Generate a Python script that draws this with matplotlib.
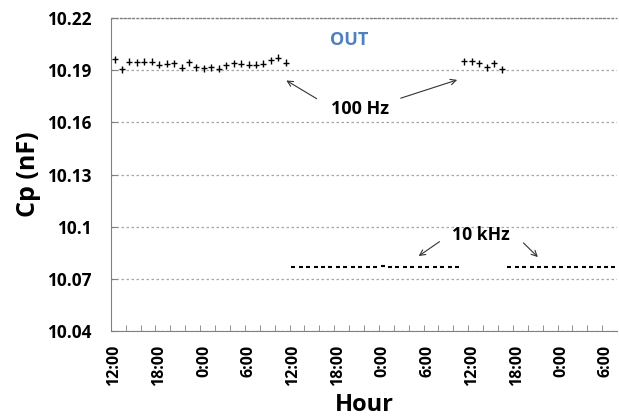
import matplotlib.pyplot as plt
from matplotlib.ticker import FixedLocator

# Datos (cada punto = 1 hora, empezando a las 12:00)
horas_100hz_a = list(range(0, 24))
cp_100hz_a = [10.1962, 10.1904, 10.1948, 10.1945, 10.1948, 10.1948, 10.1932, 10.1938,
              10.1940, 10.1915, 10.1945, 10.1918, 10.1910, 10.1918, 10.1908, 10.1928,
              10.1940, 10.1937, 10.1932, 10.1932, 10.1937, 10.1958, 10.1972, 10.1942]
horas_100hz_b = list(range(47, 53))
cp_100hz_b = [10.1952, 10.1952, 10.1939, 10.1916, 10.1939, 10.1904]
err_100hz = 0.002

horas_10khz_a = list(range(24, 47))
cp_10khz_a = [10.0771, 10.0771, 10.0771, 10.0771, 10.0771, 10.0771, 10.0771, 10.0771,
              10.0771, 10.0771, 10.0771, 10.0771, 10.07715, 10.0771, 10.0771, 10.0771,
              10.0771, 10.0771, 10.0771, 10.0771, 10.0771, 10.0771, 10.0771]
horas_10khz_b = list(range(53, 68))
cp_10khz_b = [10.0771, 10.0771, 10.0771, 10.0771, 10.0771, 10.0771, 10.0771, 10.0771,
              10.0771, 10.0771, 10.0771, 10.0771, 10.0771, 10.0771, 10.0771]

etiquetas_x = ['12:00', '18:00', '0:00', '6:00'] * 3
pos_etiquetas = list(range(0, 68, 6))
ticks_y = [10.04, 10.07, 10.1, 10.13, 10.16, 10.19, 10.22]

plt.rcParams['font.family'] = ['Open Sans', 'DejaVu Sans']
plt.rcParams['font.weight'] = 'bold'

fig = plt.figure(figsize=(6.19, 4.17), dpi=100)
ax = fig.add_axes([0.179, 0.2062, 0.818, 0.7506])

# 100 Hz con barras de error
for hx, cy in [(horas_100hz_a, cp_100hz_a), (horas_100hz_b, cp_100hz_b)]:
    ax.errorbar(hx, cy, yerr=err_100hz, fmt='_', color='black', ecolor='black',
                elinewidth=1, markersize=4, mew=1, capsize=0, zorder=3)

# 10 kHz
for hx, cy in [(horas_10khz_a, cp_10khz_a), (horas_10khz_b, cp_10khz_b)]:
    ax.plot(hx, cy, linestyle='none', marker='_', color='black',
            markersize=3, mew=1.5, zorder=3)

ax.set_xlim(-0.5, 67.5)
ax.set_ylim(10.04, 10.22)
ax.set_yticks(ticks_y)
ax.set_yticklabels(['10.04', '10.07', '10.1', '10.13', '10.16', '10.19', '10.22'],
                   fontsize=12.4, fontweight='bold')
ax.xaxis.set_major_locator(FixedLocator(pos_etiquetas))
ax.set_xticklabels(etiquetas_x, rotation=90, fontsize=11.5, fontweight='bold')
ax.xaxis.set_minor_locator(FixedLocator([-0.5 + 2 * k for k in range(1, 34)]))
ax.tick_params(axis='x', which='major', length=0, pad=10)
ax.tick_params(axis='x', which='minor', direction='in', length=4, color='#808080')
ax.tick_params(axis='y', which='major', length=4, color='#808080', direction='in', pad=14)

ax.grid(True, axis='y', linestyle=(0, (2, 2)), color='#a6a6a6', linewidth=0.9)
for lado in ['top', 'right']:
    ax.spines[lado].set_visible(False)
for lado in ['left', 'bottom']:
    ax.spines[lado].set_color('#808080')
ax.axhline(10.22, color='#808080', linestyle=(0, (2, 1)), linewidth=1, clip_on=False)

ax.set_ylabel('Cp (nF)', fontsize=18, fontweight='bold', labelpad=4)
ax.set_xlabel('Hour', fontsize=17, fontweight='bold', labelpad=5)

# Anotaciones
ax.text(31.5, 10.2073, 'OUT', color='#4f81bd', fontsize=13, fontweight='bold',
        ha='center', va='center')
ax.text(32.97, 10.1677, '100 Hz', fontsize=13, fontweight='bold', ha='center', va='center')
ax.text(49.23, 10.0952, '10 kHz', fontsize=12.7, fontweight='bold', ha='center', va='center')
flecha = dict(arrowstyle='->', color='#333333', lw=0.8)
ax.annotate('', xy=(22.75, 10.1849), xytext=(27.46, 10.1728), arrowprops=flecha)
ax.annotate('', xy=(46.37, 10.1849), xytext=(38.08, 10.1734), arrowprops=flecha)
ax.annotate('', xy=(40.54, 10.0822), xytext=(43.95, 10.0923), arrowprops=flecha)
ax.annotate('', xy=(57.12, 10.0814), xytext=(54.65, 10.0918), arrowprops=flecha)

fig.savefig('out.png', dpi=100)
